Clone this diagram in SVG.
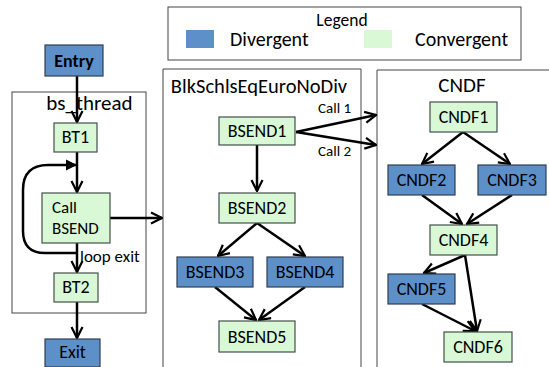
<svg xmlns="http://www.w3.org/2000/svg" width="549" height="367" viewBox="0 0 549 367">
<style>
text{font-family:Carlito,"Liberation Sans",sans-serif;fill:#000}
.n{font-size:18px;text-anchor:middle}
.div{fill:#5d8fc9;stroke:#2f3f52;stroke-width:1.2}
.con{fill:#d8f8d6;stroke:#44504a;stroke-width:1.2}
.frame{fill:none;stroke:#444;stroke-width:1}
.t{font-size:21px;text-anchor:middle}
.e{fill:none;stroke:#000;stroke-width:2.5;marker-end:url(#ah)}
</style>
<defs>
<marker id="ah" viewBox="0 0 10 10" refX="9" refY="5" markerWidth="5.5" markerHeight="5.5" orient="auto" markerUnits="strokeWidth">
<path d="M1,1 L9,5 L1,9" fill="none" stroke="#000" stroke-width="1.6"/>
</marker>
<marker id="ahf" viewBox="0 0 10 10" refX="9" refY="5" markerWidth="4.5" markerHeight="4.5" orient="auto" markerUnits="strokeWidth">
<path d="M0,0 L10,5 L0,10 Z" fill="#000"/>
</marker>
</defs>
<rect width="549" height="367" fill="#fff"/>
<g id="legend">
<rect class="frame" x="168" y="7" width="353" height="53"/>
<text x="342" y="26" style="font-size:17.5px;text-anchor:middle">Legend</text>
<rect x="186" y="30" width="28" height="18" fill="#5d8fc9"/>
<text x="230" y="46" style="font-size:20px">Divergent</text>
<rect x="364" y="30" width="28" height="18" fill="#d8f8d6"/>
<text x="415" y="46" style="font-size:20px">Convergent</text>
</g>
<g id="bs_thread">
<rect class="frame" x="12" y="92" width="134" height="221"/>
<text class="t" x="89.5" y="110">bs_thread</text>
</g>
<g id="BlkSchlsEqEuroNoDiv">
<path class="frame" d="M163,370 V69 H361 V370"/>
<text class="t" x="259" y="93" style="font-size:20.5px">BlkSchlsEqEuroNoDiv</text>
</g>
<g id="CNDF">
<path class="frame" d="M377,370 V70 H552"/>
<text class="t" x="462" y="92">CNDF</text>
</g>
<g id="connectors">
<path class="e" d="M77,76 V122"/>
<path class="e" d="M77,152 V192"/>
<path fill="none" stroke="#000" stroke-width="2.5" marker-end="url(#ahf)" d="M77,253 H45 Q23,253 23,231 V190 Q23,165 48,165 H76"/>
<path class="e" d="M77,243 V272"/>
<path class="e" d="M77,302 V338"/>
<path class="e" d="M110,218 H162"/>
<path class="e" d="M296,132 L376,115"/>
<path class="e" d="M296,132 L376,145"/>
<path class="e" d="M257,145 V191"/>
<path class="e" d="M257,223 L218,256"/>
<path class="e" d="M257,223 L305,256"/>
<path class="e" d="M215,287 L256,320"/>
<path class="e" d="M305,287 L259,320"/>
<path class="e" d="M463,132 L422,164"/>
<path class="e" d="M463,132 L510,164"/>
<path class="e" d="M422,195 L462,224"/>
<path class="e" d="M512,195 L467,224"/>
<path class="e" d="M465,255 L424,273"/>
<path class="e" d="M465,255 L477,331"/>
<path class="e" d="M422,304 L475,331"/>
<text x="80" y="262" style="font-size:17px">loop exit</text>
<text x="318" y="113" style="font-size:15px">Call 1</text>
<text x="318" y="156" style="font-size:15px">Call 2</text>
</g>
<g id="Entry"><rect class="div" x="45" y="45" width="58" height="31"/><text class="n" x="74" y="67" style="font-weight:bold">Entry</text></g>
<g id="BT1"><rect class="con" x="54" y="123" width="43" height="29"/><text class="n" x="75.5" y="143">BT1</text></g>
<g id="CallBSEND"><rect class="con" x="42" y="193" width="68" height="50"/><text x="52" y="213" style="font-size:17px">Call</text><text x="52" y="234" style="font-size:17px">BSEND</text></g>
<g id="BT2"><rect class="con" x="54" y="273" width="44" height="29"/><text class="n" x="76" y="293">BT2</text></g>
<g id="Exit"><rect class="div" x="45" y="339" width="55" height="28"/><text class="n" x="72.5" y="358">Exit</text></g>
<g id="BSEND1"><rect class="con" x="219" y="117" width="76" height="28"/><text class="n" x="257" y="137">BSEND1</text></g>
<g id="BSEND2"><rect class="con" x="219" y="193" width="76" height="30"/><text class="n" x="257" y="214">BSEND2</text></g>
<g id="BSEND3"><rect class="div" x="177" y="257" width="76" height="30"/><text class="n" x="215" y="278">BSEND3</text></g>
<g id="BSEND4"><rect class="div" x="267" y="257" width="76" height="30"/><text class="n" x="305" y="278">BSEND4</text></g>
<g id="BSEND5"><rect class="con" x="219" y="321" width="76" height="31"/><text class="n" x="257" y="343">BSEND5</text></g>
<g id="CNDF1"><rect class="con" x="430" y="102" width="67" height="30"/><text class="n" x="463.5" y="123">CNDF1</text></g>
<g id="CNDF2"><rect class="div" x="388" y="165" width="67" height="30"/><text class="n" x="421.5" y="186">CNDF2</text></g>
<g id="CNDF3"><rect class="div" x="478" y="165" width="68" height="30"/><text class="n" x="512" y="186">CNDF3</text></g>
<g id="CNDF4"><rect class="con" x="430" y="225" width="67" height="30"/><text class="n" x="463.5" y="246">CNDF4</text></g>
<g id="CNDF5"><rect class="div" x="388" y="274" width="67" height="30"/><text class="n" x="421.5" y="295">CNDF5</text></g>
<g id="CNDF6"><rect class="con" x="444" y="332" width="68" height="30"/><text class="n" x="478" y="353">CNDF6</text></g>
</svg>
